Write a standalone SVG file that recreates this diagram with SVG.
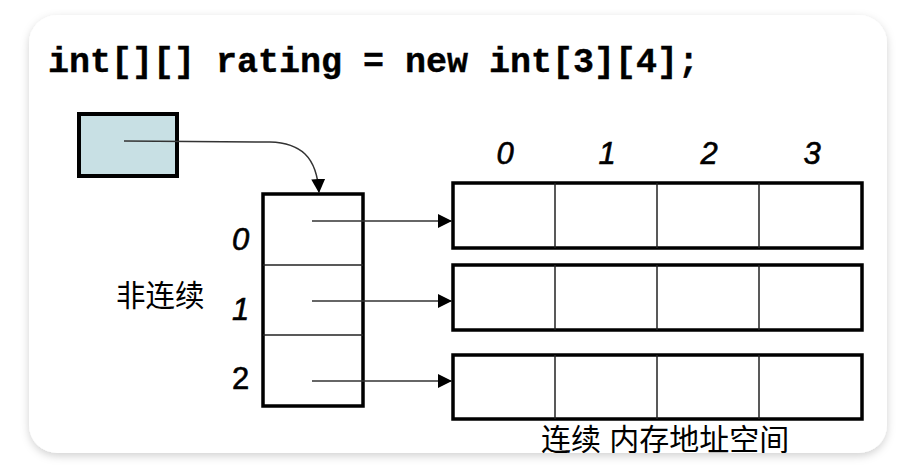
<svg xmlns="http://www.w3.org/2000/svg" width="920" height="468" viewBox="0 0 920 468">
  <defs>
    <filter id="shadow" x="-10%" y="-10%" width="120%" height="125%">
      <feDropShadow dx="0" dy="3" stdDeviation="4" flood-color="#000" flood-opacity="0.18"/>
    </filter>
    <clipPath id="cardclip">
      <rect x="29" y="15" width="858" height="438" rx="28" ry="28"/>
    </clipPath>
    <marker id="arrow" viewBox="0 0 14 14" refX="14" refY="7" markerWidth="14" markerHeight="14" markerUnits="userSpaceOnUse" orient="auto">
      <path d="M0,0 L14,7 L0,14 Z" fill="#000"/>
    </marker>
  </defs>
  <style>
    .code { font-family: "Liberation Mono", "DejaVu Sans Mono", monospace; font-weight: bold; font-size: 35px; fill: #000; stroke: #000; stroke-width: 0.4; }
    .idx { font-family: "Liberation Sans", Arial, sans-serif; font-style: italic; font-size: 31px; fill: #000; stroke: #000; stroke-width: 0.6; }
    .idxu { font-family: "Liberation Sans", Arial, sans-serif; font-size: 31px; fill: #000; stroke: #000; stroke-width: 0.6; }
    .cjk { font-family: "Liberation Sans", "Noto Sans CJK SC", sans-serif; fill: #000; }
    .outer { fill: #fff; stroke: #000; stroke-width: 3.5; }
    .inner { stroke: #222; stroke-width: 1.5; fill: none; }
    .conn { stroke: #333; stroke-width: 1.5; fill: none; }
  </style>
  <rect x="0" y="0" width="920" height="468" fill="#ffffff"/>
  <rect id="card" x="29" y="15" width="858" height="438" rx="28" ry="28" fill="#fff" filter="url(#shadow)"/>
  <g clip-path="url(#cardclip)">
    <text class="code" x="48" y="72">int[][] rating = new int[3][4];</text>

    <g id="ref">
      <rect x="79" y="114" width="98" height="62" fill="#c8e0e4" stroke="#000" stroke-width="4"/>
    </g>

    <g id="outerArray">
      <rect class="outer" x="263" y="194" width="100" height="212"/>
      <line class="inner" x1="263" y1="265" x2="363" y2="265"/>
      <line class="inner" x1="263" y1="335" x2="363" y2="335"/>
      <text class="idx" x="232" y="250">0</text>
      <text class="idx" x="232" y="320">1</text>
      <text class="idxu" x="232" y="389">2</text>
    </g>

    <g id="label-noncontig">
      <text class="cjk" x="116" y="306" font-size="29.5">非连续</text>
    </g>

    <g id="colIndices">
      <text class="idx" x="505" y="164" text-anchor="middle">0</text>
      <text class="idx" x="607" y="164" text-anchor="middle">1</text>
      <text class="idx" x="709" y="164" text-anchor="middle">2</text>
      <text class="idx" x="812" y="164" text-anchor="middle">3</text>
    </g>

    <g id="row0">
      <rect class="outer" x="453" y="183" width="409" height="65"/>
      <line class="inner" x1="555" y1="183" x2="555" y2="248"/>
      <line class="inner" x1="657" y1="183" x2="657" y2="248"/>
      <line class="inner" x1="759" y1="183" x2="759" y2="248"/>
    </g>
    <g id="row1">
      <rect class="outer" x="453" y="265" width="409" height="65"/>
      <line class="inner" x1="555" y1="265" x2="555" y2="330"/>
      <line class="inner" x1="657" y1="265" x2="657" y2="330"/>
      <line class="inner" x1="759" y1="265" x2="759" y2="330"/>
    </g>
    <g id="row2">
      <rect class="outer" x="453" y="355" width="409" height="64"/>
      <line class="inner" x1="555" y1="355" x2="555" y2="419"/>
      <line class="inner" x1="657" y1="355" x2="657" y2="419"/>
      <line class="inner" x1="759" y1="355" x2="759" y2="419"/>
    </g>

    <g id="label-contig">
      <text class="cjk" x="541" y="450" font-size="30">连续 内存地址空间</text>
    </g>

    <g id="connectors">
      <path class="conn" d="M124,141 L270,142 C300,143 317,156 319,193" marker-end="url(#arrow)"/>
      <line class="conn" x1="312" y1="221" x2="452" y2="221" marker-end="url(#arrow)"/>
      <line class="conn" x1="312" y1="301" x2="452" y2="301" marker-end="url(#arrow)"/>
      <line class="conn" x1="312" y1="381" x2="452" y2="381" marker-end="url(#arrow)"/>
    </g>
  </g>
</svg>
